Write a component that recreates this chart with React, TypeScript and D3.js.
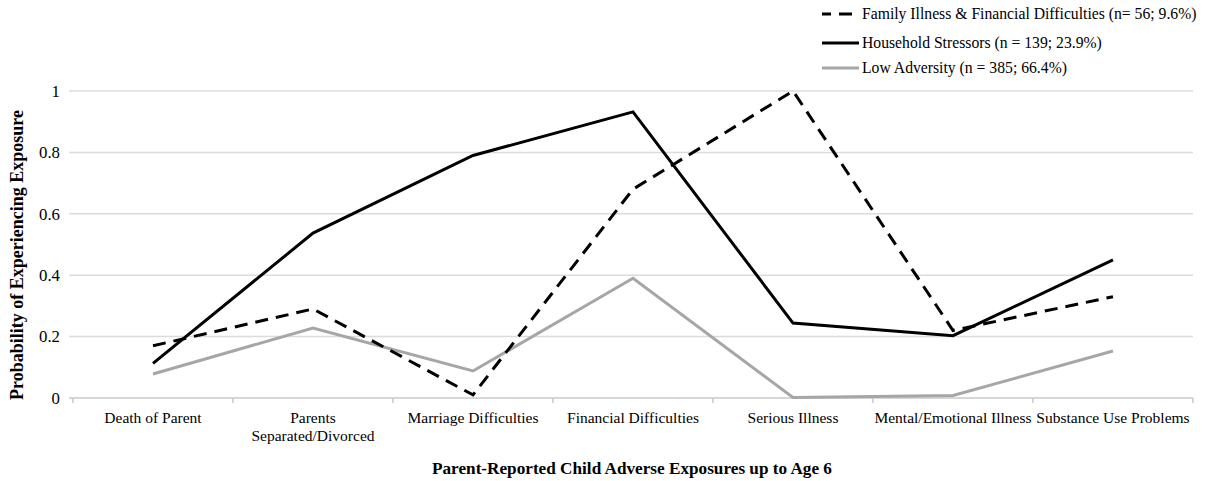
import React from "react";
import * as d3 from "d3";

const categories = [
  "Death of Parent",
  "Parents\nSeparated/Divorced",
  "Marriage Difficulties",
  "Financial Difficulties",
  "Serious Illness",
  "Mental/Emotional Illness",
  "Substance Use Problems",
];
const familyIllness = [0.17, 0.29, 0.01, 0.68, 1.0, 0.22, 0.33];
const householdStressors = [0.113, 0.537, 0.79, 0.932, 0.244, 0.203, 0.45];
const lowAdversity = [0.078, 0.228, 0.088, 0.39, 0.002, 0.008, 0.153];
const yTicks = [0, 0.2, 0.4, 0.6, 0.8, 1];
const seriesNames = [
  "Family Illness & Financial Difficulties (n= 56; 9.6%)",
  "Household Stressors (n = 139; 23.9%)",
  "Low Adversity (n = 385; 66.4%)",
];

const W = 1212;
const H = 481;
const left = 73;
const right = 1193;
const top = 91;
const bottom = 398;
const FONT = "'Liberation Serif', 'Times New Roman', serif";

export default function App() {
  const x = d3.scaleBand<string>().domain(categories).range([left, right]);
  const y = d3.scaleLinear().domain([0, 1]).range([bottom, top]);
  const cx = (i: number) => (x(categories[i]) as number) + x.bandwidth() / 2;
  const line = d3
    .line<number>()
    .x((_, i) => cx(i))
    .y((d) => y(d));

  const series = [
    { name: seriesNames[0], values: familyIllness, color: "#000", dash: "13 8" },
    { name: seriesNames[1], values: householdStressors, color: "#000", dash: undefined },
    { name: seriesNames[2], values: lowAdversity, color: "#a6a6a6", dash: undefined },
  ];
  const drawOrder = [2, 1, 0];
  const legendY = [14, 43, 68];

  return (
    <svg
      width={W}
      height={H}
      style={{ position: "absolute", left: 0, top: 0, background: "#fff" }}
      fontFamily={FONT}
    >
      {/* gridlines */}
      {yTicks.map((t) => (
        <line
          key={t}
          x1={left - 4}
          x2={right}
          y1={y(t)}
          y2={y(t)}
          stroke={t === 0 ? "#c8c8c8" : "#dcdcdc"}
          strokeWidth={1.5}
        />
      ))}
      {/* x ticks at band boundaries */}
      {categories.map((c, i) => (
        <line
          key={"t" + i}
          x1={x(c) as number}
          x2={x(c) as number}
          y1={bottom}
          y2={bottom + 5}
          stroke="#c8c8c8"
          strokeWidth={1.5}
        />
      ))}
      <line x1={right} x2={right} y1={bottom} y2={bottom + 5} stroke="#c8c8c8" strokeWidth={1.5} />
      {/* y tick labels */}
      {yTicks.map((t) => (
        <text
          key={"l" + t}
          x={60}
          y={y(t)}
          dy="0.35em"
          textAnchor="end"
          fontSize={16.8}
          fill="#000"
        >
          {d3.format("~g")(t)}
        </text>
      ))}
      {/* x labels */}
      {categories.map((c, i) => (
        <text key={"x" + i} x={cx(i)} y={423} textAnchor="middle" fontSize={15.5} fill="#000">
          {c.split("\n").map((p, j) => (
            <tspan key={j} x={cx(i)} dy={j === 0 ? 0 : 17.5}>
              {p}
            </tspan>
          ))}
        </text>
      ))}
      {/* axis titles */}
      <text
        transform={`translate(17, 255) rotate(-90)`}
        textAnchor="middle"
        fontSize={18}
        fontWeight="bold"
        dy="0.35em"
      >
        Probability of Experiencing Exposure
      </text>
      <text x={632} y={474} textAnchor="middle" fontSize={17.2} fontWeight="bold">
        Parent-Reported Child Adverse Exposures up to Age 6
      </text>
      {/* lines */}
      {drawOrder.map((k) => {
        const s = series[k];
        return (
          <path
            key={s.name}
            d={line(s.values) as string}
            fill="none"
            stroke={s.color}
            strokeWidth={3}
            strokeDasharray={s.dash}
            strokeLinejoin="miter"
          />
        );
      })}
      {/* legend */}
      {series.map((s, i) => (
        <g key={"lg" + i}>
          <line
            x1={822}
            x2={859}
            y1={legendY[i]}
            y2={legendY[i]}
            stroke={s.color}
            strokeWidth={3}
            strokeDasharray={s.dash ? "9 8 13 8" : undefined}
          />
          <text x={862} y={legendY[i]} dy="0.35em" fontSize={15.7} fill="#000">
            {s.name}
          </text>
        </g>
      ))}
    </svg>
  );
}
